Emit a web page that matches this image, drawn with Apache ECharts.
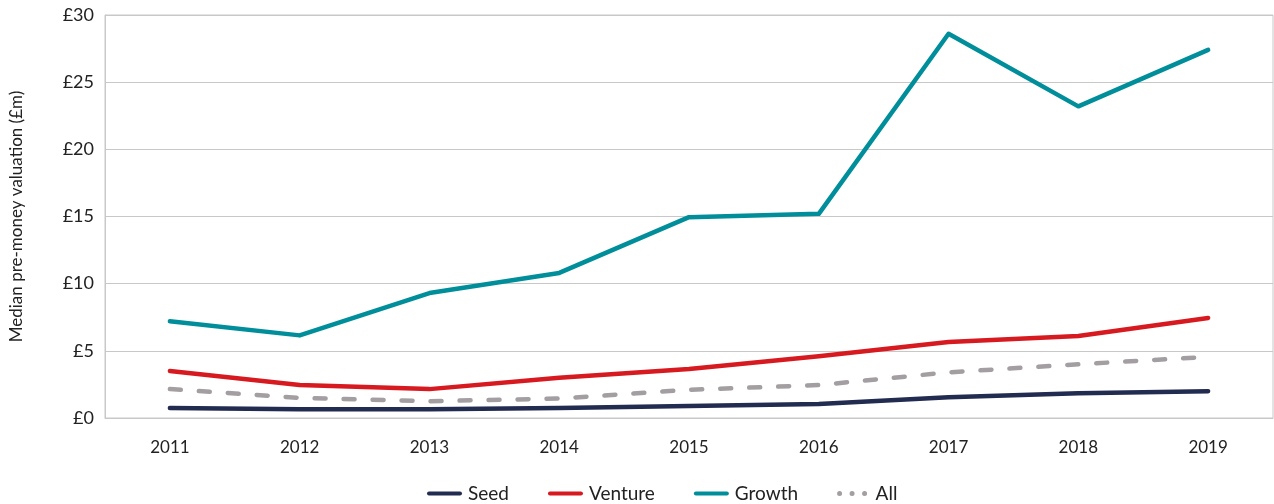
<!DOCTYPE html>
<html>
<head>
<meta charset="utf-8">
<script src="https://cdn.jsdelivr.net/npm/echarts@6/dist/echarts.min.js"></script>
<style>
  html, body { margin: 0; padding: 0; background: #fff; }
  #chart { width: 1274px; height: 504px; }
</style>
</head>
<body>
<div id="chart"></div>
<script>
const years = ['2011', '2012', '2013', '2014', '2015', '2016', '2017', '2018', '2019'];
const seed = [0.75, 0.65, 0.65, 0.75, 0.9, 1.05, 1.55, 1.85, 2.0];
const venture = [3.5, 2.45, 2.15, 3.0, 3.65, 4.6, 5.65, 6.1, 7.45];
const growth = [7.2, 6.15, 9.3, 10.8, 14.95, 15.2, 28.6, 23.2, 27.4];
const all = [2.15, 1.5, 1.25, 1.45, 2.1, 2.45, 3.4, 4.0, 4.55];

const font = 'Lato';
const lineIcon = 'path://M2,0 L33,0 A2,2 0 0 1 33,4 L2,4 A2,2 0 0 1 2,0 Z';
const dotIcon = 'path://M0,2 A2,2 0 1 0 4,2 A2,2 0 1 0 0,2 Z M10,2 A2,2 0 1 0 14,2 A2,2 0 1 0 10,2 Z M20,2 A2,2 0 1 0 24,2 A2,2 0 1 0 20,2 Z';

const chart = echarts.init(document.getElementById('chart'));

const mkLine = (name, data, color, type) => ({
  name,
  type: 'line',
  data,
  symbol: 'none',
  lineStyle: { color, width: 4.5, type: type || 'solid', cap: 'round', join: 'round' },
  itemStyle: { color },
  z: name === 'All' ? 3 : 2
});

chart.setOption({
  animation: false,
  textStyle: { fontFamily: font },
  grid: {
    left: 103, right: 1, top: 15, bottom: 86,
    show: true, borderColor: '#c8c8c8', borderWidth: 1
  },
  legend: {
    left: 427,
    top: 484,
    padding: 0,
    itemWidth: 35,
    itemHeight: 5,
    itemGap: 39,
    textStyle: { fontFamily: font, fontSize: 19, color: '#222', padding: [0, 0, 0, 1] },
    data: [
      { name: 'Seed', icon: lineIcon, itemStyle: { color: '#222b50' } },
      { name: 'Venture', icon: lineIcon, itemStyle: { color: '#d71920' } },
      { name: 'Growth', icon: lineIcon, itemStyle: { color: '#008e9b' } },
      { name: 'All', icon: dotIcon, itemWidth: 30, itemStyle: { color: '#a39ea1' } }
    ]
  },
  xAxis: {
    type: 'category',
    data: years,
    boundaryGap: true,
    axisTick: { show: false },
    axisLine: { lineStyle: { color: '#c8c8c8' } },
    axisLabel: { fontSize: 17, color: '#222', margin: 21, fontFamily: font }
  },
  yAxis: {
    type: 'value',
    min: 0, max: 30, interval: 5,
    name: 'Median pre-money valuation (£m)',
    nameLocation: 'middle',
    nameGap: 80,
    nameTextStyle: { fontSize: 17, color: '#222', fontFamily: font },
    axisLine: { show: true, lineStyle: { color: '#c8c8c8' } },
    axisTick: { show: false },
    splitLine: { lineStyle: { color: '#c8c8c8' } },
    axisLabel: { fontSize: 18, color: '#222', margin: 11, fontFamily: font, formatter: v => '£' + v }
  },
  series: [
    mkLine('Seed', seed, '#222b50'),
    mkLine('Venture', venture, '#d71920'),
    mkLine('Growth', growth, '#008e9b'),
    mkLine('All', all, '#a39ea1', [11, 18])
  ]
});
</script>
</body>
</html>
